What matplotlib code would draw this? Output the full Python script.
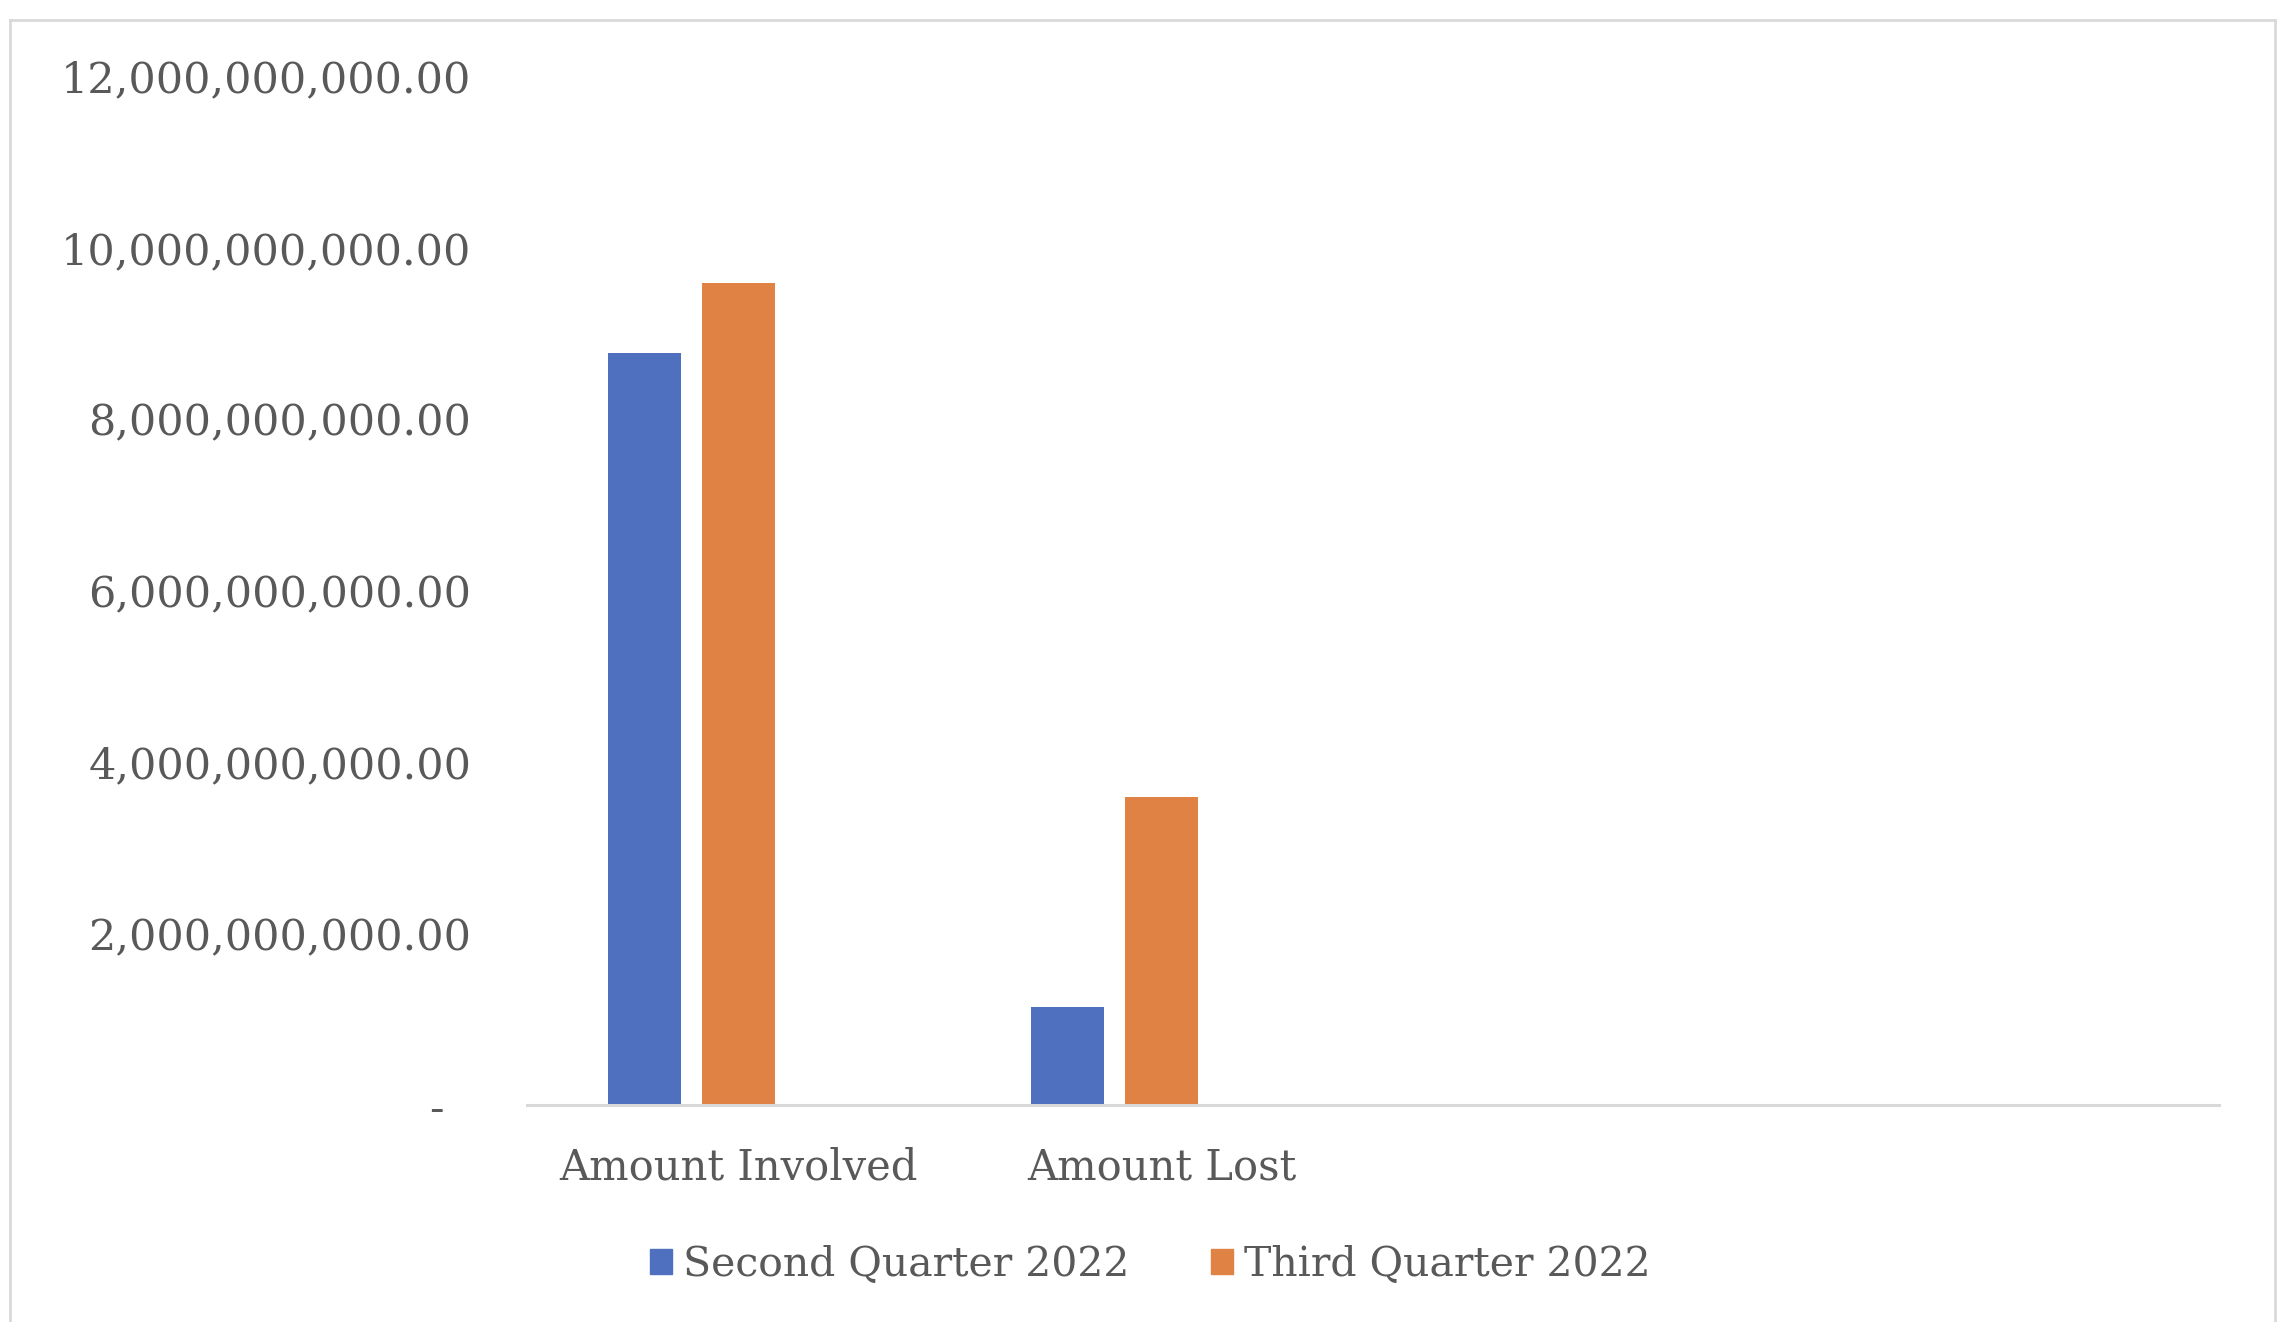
import matplotlib.pyplot as plt
import numpy as np
from matplotlib.lines import Line2D
from matplotlib.patches import Patch

# Datos (valores en unidades monetarias)
categorias = ['Amount Involved', 'Amount Lost', '', '']
segundo_trimestre = [8.77e9, 1.14e9, 0, 0]
tercer_trimestre = [9.59e9, 3.59e9, 0, 0]
series = ['Second Quarter 2022', 'Third Quarter 2022']
ticks_y = [0, 2e9, 4e9, 6e9, 8e9, 10e9, 12e9]

azul = '#4E70BE'
naranja = '#DF8244'
gris_texto = '#595959'
gris_linea = '#D9D9D9'

plt.rcParams['font.family'] = ['DejaVu Serif']

fig = plt.figure(figsize=(22.83, 13.22), dpi=100)
ax = fig.add_axes([527 / 2283, 1 - 1105 / 1322, 1692 / 2283, (1105 - 76) / 1322])

x = np.arange(len(categorias))
ancho = 0.173
ax.bar(x - 0.222, segundo_trimestre, ancho, color=azul, label=series[0])
ax.bar(x, tercer_trimestre, ancho, color=naranja, label=series[1])

ax.set_xlim(-0.5, len(categorias) - 0.5)
ax.set_ylim(0, 12e9)
ax.set_yticks(ticks_y)
etiquetas_y = ['-  ' if v == 0 else f'{v:,.2f}' for v in ticks_y]
ax.set_yticklabels(etiquetas_y, fontsize=31, color=gris_texto)
ax.set_xticks(x)
ax.set_xticklabels(categorias, fontsize=30, color=gris_texto)
ax.tick_params(axis='y', length=0, pad=40)
ax.tick_params(axis='x', length=0, pad=30)

for lado in ['top', 'right', 'left']:
    ax.spines[lado].set_visible(False)
ax.spines['bottom'].set_color(gris_linea)
ax.spines['bottom'].set_linewidth(2.2)

# Leyenda abajo con marcadores cuadrados
manejadores = [Patch(color=azul), Patch(color=naranja)]
fig.legend(manejadores, series, loc='center', bbox_to_anchor=(1150 / 2283, 1 - 1265 / 1322),
           ncol=2, frameon=False, fontsize=29.5, labelcolor=gris_texto,
           handlelength=0.55, handleheight=0.55, handletextpad=0.25, columnspacing=2.0)

# Marco del grafico
x0, x1, y0 = 10 / 2283, 2275 / 2283, 1 - 20 / 1322
fig.add_artist(Line2D([x0, x1], [y0, y0], color=gris_linea, lw=2, transform=fig.transFigure))
fig.add_artist(Line2D([x0, x0], [0, y0], color=gris_linea, lw=2, transform=fig.transFigure))
fig.add_artist(Line2D([x1, x1], [0, y0], color=gris_linea, lw=2, transform=fig.transFigure))

fig.savefig('out.png', dpi=100)
